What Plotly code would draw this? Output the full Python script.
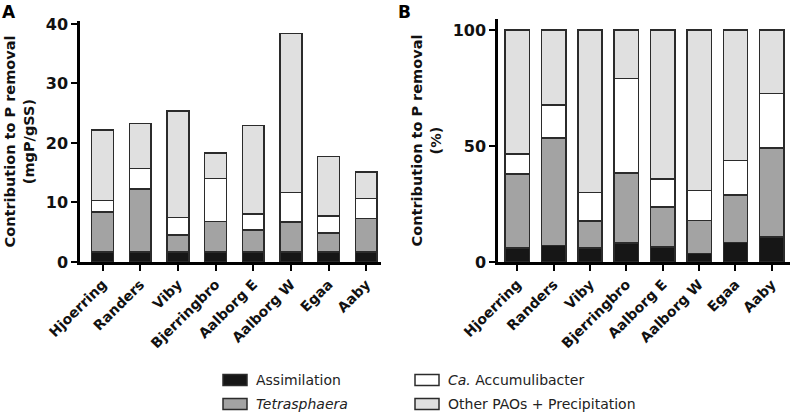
import plotly.graph_objects as go
from plotly.subplots import make_subplots

# ---- data -------------------------------------------------------------
plants = ["Hjoerring", "Randers", "Viby", "Bjerringbro",
          "Aalborg E", "Aalborg W", "Egaa", "Aaby"]

# Panel A: contribution (mgP/gSS), per segment
assim_abs   = [1.7, 1.7, 1.7, 1.7, 1.7, 1.7, 1.7, 1.7]
tetra_abs   = [6.7, 10.6, 2.8, 5.1, 3.7, 5.0, 3.2, 5.6]
accum_abs   = [1.9, 3.4, 3.0, 7.2, 2.7, 5.0, 2.8, 3.4]
other_abs   = [11.9, 7.6, 17.9, 4.3, 14.8, 26.7, 10.0, 4.4]

# Panel B: contribution (%), per segment
assim_pct   = [6.0, 7.2, 6.0, 8.1, 6.5, 3.7, 8.5, 10.8]
tetra_pct   = [32.0, 46.2, 11.7, 30.2, 17.2, 14.1, 20.3, 38.4]
accum_pct   = [8.6, 14.2, 12.2, 40.7, 12.1, 13.1, 14.9, 23.5]
other_pct   = [53.4, 32.4, 70.1, 21.0, 64.2, 69.1, 56.3, 27.3]

series_names = ["Assimilation", "<i>Tetrasphaera</i>",
                "<i>Ca.</i> Accumulibacter", "Other PAOs + Precipitation"]

# ---- style ------------------------------------------------------------
COLORS = ["#161616", "#a3a3a3", "#ffffff", "#e0e0e0"]
EDGE   = "#2b2b2b"
W, H   = 790, 413
FONT   = "DejaVu Sans"

fig = make_subplots(rows=1, cols=2)

panels = [
    (1, [assim_abs, tetra_abs, accum_abs, other_abs], 0.58),
    (2, [assim_pct, tetra_pct, accum_pct, other_pct], 0.67),
]
for col, segs, bw in panels:
    for i, vals in enumerate(segs):
        fig.add_trace(go.Bar(
            x=plants, y=vals, width=bw,
            name=series_names[i],
            marker=dict(color=COLORS[i], line=dict(color=EDGE, width=1.5)),
            showlegend=False,
        ), row=1, col=col)

axis_common = dict(
    showline=True, linecolor="black", linewidth=2.5,
    ticks="outside", tickcolor="black", tickwidth=2, ticklen=6,
    showgrid=False, zeroline=False, automargin=False,
)

fig.update_xaxes(axis_common, tickfont=dict(family=FONT, size=14, color="#111111"),
                 tickangle=-45,
                 tickvals=plants, ticktext=[f"<b>{p}</b>" for p in plants])
fig.update_yaxes(axis_common, tickfont=dict(family=FONT, size=16, color="#111111"))

fig.update_xaxes(domain=[80 / W, 381 / W], range=[-0.6, 7.39], row=1, col=1)
fig.update_xaxes(domain=[498 / W, 1.0], range=[-0.53, 7.5], row=1, col=2)

ytitle_font = dict(family=FONT, size=14.5, color="#111111")
fig.update_yaxes(domain=[1 - 262 / H, 1 - 21 / H], range=[0, 40.5],
                 tickvals=[0, 10, 20, 30, 40],
                 ticktext=["<b>0</b>", "<b>10</b>", "<b>20</b>", "<b>30</b>", "<b>40</b>"],
                 title=dict(text="<b>Contribution to P removal<br>(mgP/gSS)</b>",
                            font=ytitle_font, standoff=8),
                 row=1, col=1)
fig.update_yaxes(domain=[1 - 262 / H, 1 - 19 / H], range=[0, 104.7],
                 tickvals=[0, 50, 100],
                 ticktext=["<b>0</b>", "<b>50</b>", "<b>100</b>"],
                 title=dict(text="<b>Contribution to P removal<br>(%)</b>",
                            font=ytitle_font, standoff=8),
                 row=1, col=2)

# panel letters
for txt, xp in [("A", 0), ("B", 396)]:
    fig.add_annotation(text=f"<b>{txt}</b>", xref="paper", yref="paper",
                       x=xp / W, y=1.0, xanchor="left", yanchor="top",
                       showarrow=False,
                       font=dict(family=FONT, size=17, color="black"))

# legend, drawn as boxes + labels (2 columns x 2 rows)
legend_pos = [(223, 380), (223, 404), (415, 380), (415, 404)]
for i, (lx, ly) in enumerate(legend_pos):
    fig.add_shape(type="rect", xref="paper", yref="paper",
                  x0=lx / W, x1=(lx + 24) / W,
                  y0=1 - (ly + 5.5) / H, y1=1 - (ly - 5.5) / H,
                  fillcolor=COLORS[i], line=dict(color=EDGE, width=1.5))
    fig.add_annotation(text=series_names[i], xref="paper", yref="paper",
                       x=(lx + 31) / W, y=1 - ly / H,
                       xanchor="left", yanchor="middle", showarrow=False,
                       font=dict(family=FONT, size=14, color="#222222"))

fig.update_layout(
    barmode="stack",
    width=W, height=H,
    margin=dict(l=0, r=0, t=0, b=0),
    plot_bgcolor="white", paper_bgcolor="white",
    showlegend=False,
)

# drop the default 8px page margin so the figure fills the window
fig.write_html("out.html",
               config={"displayModeBar": False},
               post_script="document.body.style.margin='0px';")
